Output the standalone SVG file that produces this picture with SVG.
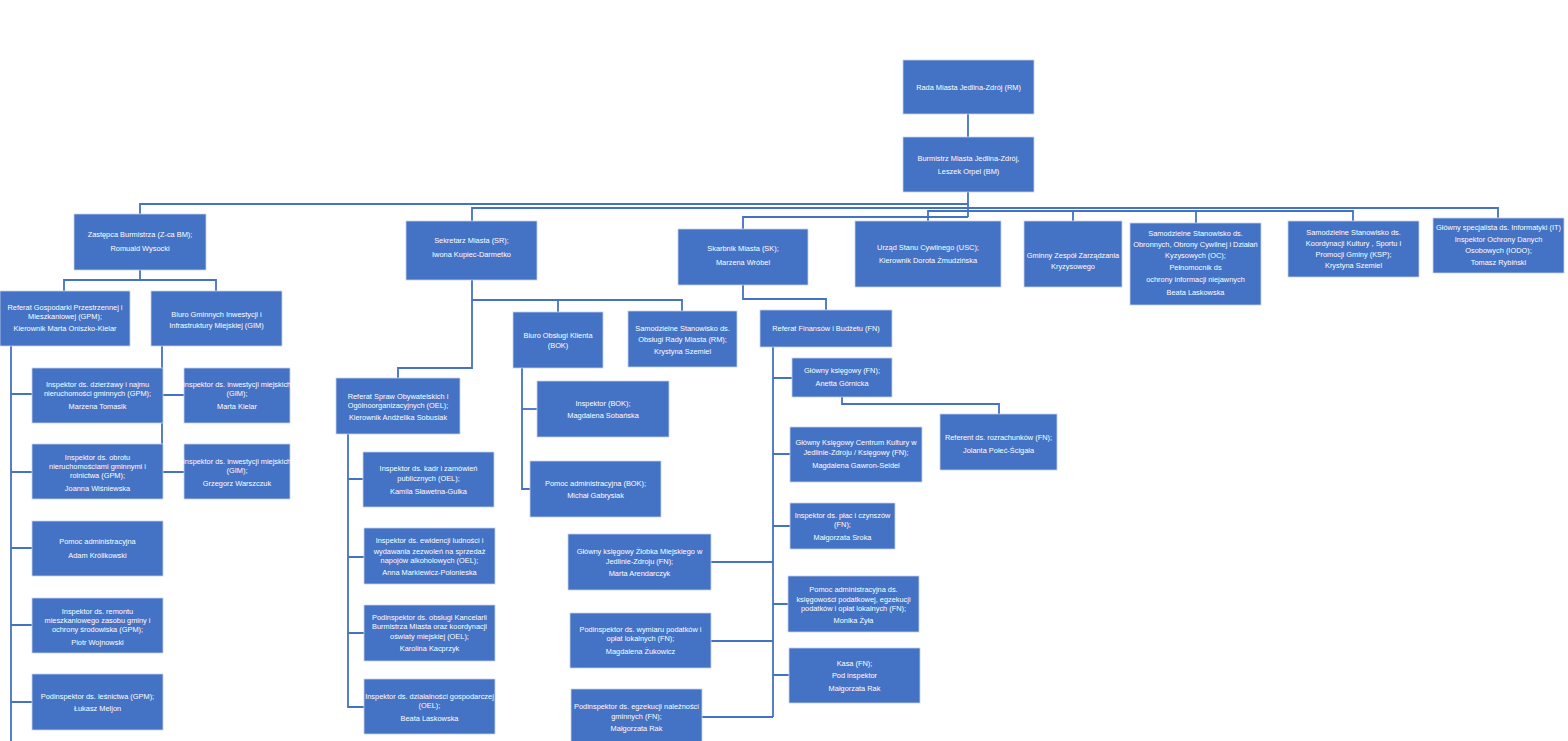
<svg xmlns="http://www.w3.org/2000/svg" width="1568" height="741" viewBox="0 0 1568 741">
<style>
.b{fill:#4472C4;stroke:#c5d3ee;stroke-width:0.8}
text{font-family:"Liberation Sans",Arial,sans-serif;font-size:7.4px;fill:#ffffff;text-anchor:middle}
.c{fill:none;stroke:#4472C4;stroke-width:1.8}
</style>
<rect width="1568" height="741" fill="#ffffff"/>
<g id="connectors" class="c">
<path d="M968 114V137"/>
<path d="M968 192V217"/>
<path d="M140 214V204H968"/>
<path d="M472 221V208H1498V218"/>
<path d="M928 221V211H1353V221"/>
<path d="M1073 211V221"/>
<path d="M1196 211V223"/>
<path d="M743 229V217H968"/>
<path d="M140 270V280"/>
<path d="M64 291V280H216V291"/>
<path d="M11 346V741"/>
<path d="M11 394H32M11 472H32M11 548H32M11 625H32M11 702H32"/>
<path d="M162 346V472"/>
<path d="M162 395H184M162 472H184"/>
<path d="M472 280V368H398V378"/>
<path d="M472 300H682V311"/>
<path d="M558 300V312"/>
<path d="M522 368V489H530"/>
<path d="M522 409H537"/>
<path d="M348 434V707H364"/>
<path d="M348 479H363M348 557H364M348 633H364"/>
<path d="M743 285V299H826V310"/>
<path d="M773 347V717"/>
<path d="M773 378H792M773 454H790M773 526H790M711 562H773M773 604H788M711 641H773M773 675H789M702 717H773"/>
<path d="M842 397V404H999V414"/>
</g>
<g id="rm"><rect class="b" x="903" y="60" width="131" height="54"/><text x="968.5" y="89.5">Rada Miasta Jedlina-Zdrój (RM)</text></g>
<g id="bm"><rect class="b" x="903" y="137" width="131" height="55"/><text x="968.5" y="160.5">Burmistrz Miasta Jedlina-Zdrój,</text><text x="968.5" y="173.5">Leszek Orpel (BM)</text></g>
<g id="zca"><rect class="b" x="74" y="214" width="132" height="56"/><text x="140" y="236.5">Zastępca Burmistrza (Z-ca BM);</text><text x="140" y="250.5">Romuald Wysocki</text></g>
<g id="sr"><rect class="b" x="406" y="221" width="131" height="59"/><text x="471.5" y="242.5">Sekretarz Miasta (SR);</text><text x="471.5" y="256.5">Iwona Kupiec-Darmetko</text></g>
<g id="sk"><rect class="b" x="678" y="229" width="130" height="56"/><text x="743" y="250.5">Skarbnik Miasta (SK);</text><text x="743" y="264.5">Marzena Wróbel</text></g>
<g id="usc"><rect class="b" x="855" y="221" width="146" height="66"/><text x="928" y="249.5">Urząd Stanu Cywilnego (USC);</text><text x="928" y="262.5">Kierownik Dorota Żmudzińska</text></g>
<g id="gzzk"><rect class="b" x="1024" y="221" width="98" height="66"/><text x="1073" y="257.5">Gminny Zespół  Zarządzania</text><text x="1073" y="268.5">Kryzysowego</text></g>
<g id="oc"><rect class="b" x="1130" y="223" width="131" height="82"/><text x="1195.5" y="235.5">Samodzielne Stanowisko ds.</text><text x="1195.5" y="246.5">Obronnych, Obrony Cywilnej i Działań</text><text x="1195.5" y="257.5">Kyzysowych (OC);</text><text x="1195.5" y="269.5">Pełnomocnik ds</text><text x="1195.5" y="281.5">ochrony informacji niejawnych</text><text x="1195.5" y="294.5">Beata Laskowska</text></g>
<g id="ksp"><rect class="b" x="1288" y="221" width="131" height="56"/><text x="1353.5" y="234.5">Samodzielne Stanowisko ds.</text><text x="1353.5" y="245.5">Koordynacji  Kultury , Sportu i</text><text x="1353.5" y="256.5">Promocji Gminy  (KSP);</text><text x="1353.5" y="267.5">Krystyna Szemiel</text></g>
<g id="it"><rect class="b" x="1433" y="218" width="131" height="55"/><text x="1498.5" y="229.5">Główny specjalista ds. Informatyki  (IT)</text><text x="1498.5" y="241.5">Inspektor Ochrony Danych</text><text x="1498.5" y="252.5">Osobowych (IODO);</text><text x="1498.5" y="264.5">Tomasz Rybiński</text></g>
<g id="gpm"><rect class="b" x="0" y="291" width="130" height="55"/><text x="65" y="309.5">Referat Gospodarki Przestrzennej i</text><text x="65" y="318.5">Mieszkaniowej (GPM);</text><text x="65" y="330.5">Kierownik Marta Oniszko-Kielar</text></g>
<g id="gim"><rect class="b" x="151" y="291" width="131" height="55"/><text x="216.5" y="316.5">Biuro Gminnych Inwestycji i</text><text x="216.5" y="327.5">Infrastruktury Miejskiej (GIM)</text></g>
<g id="gpm1"><rect class="b" x="32" y="368" width="131" height="55"/><text x="97.5" y="386.5">Inspektor ds. dzierżawy i najmu</text><text x="97.5" y="395.5">nieruchomości gminnych (GPM);</text><text x="97.5" y="408.5">Marzena Tomasik</text></g>
<g id="gim1"><rect class="b" x="184" y="368" width="106" height="55"/><text x="237" y="386.5">Inspektor ds. inwestycji miejskich</text><text x="237" y="395.5">(GIM);</text><text x="237" y="408.5">Marta Kielar</text></g>
<g id="gpm2"><rect class="b" x="32" y="444" width="131" height="55"/><text x="97.5" y="459.5">Inspektor ds. obrotu</text><text x="97.5" y="468.5">nieruchomościami gminnymi i</text><text x="97.5" y="477.5">rolnictwa (GPM);</text><text x="97.5" y="490.5">Joanna Wiśniewska</text></g>
<g id="gim2"><rect class="b" x="184" y="444" width="106" height="55"/><text x="237" y="463.5">Inspektor ds. inwestycji miejskich</text><text x="237" y="472.5">(GIM);</text><text x="237" y="485.5">Grzegorz Warszczuk</text></g>
<g id="gpm3"><rect class="b" x="32" y="521" width="131" height="55"/><text x="97.5" y="543.5">Pomoc administracyjna</text><text x="97.5" y="557.5">Adam Królikowski</text></g>
<g id="gpm4"><rect class="b" x="32" y="598" width="131" height="55"/><text x="97.5" y="613.5">Inspektor ds. remontu</text><text x="97.5" y="622.5">mieszkaniowego zasobu gminy i</text><text x="97.5" y="631.5">ochrony środowiska (GPM);</text><text x="97.5" y="644.5">Piotr Wojnowski</text></g>
<g id="gpm5"><rect class="b" x="32" y="674" width="131" height="56"/><text x="97.5" y="698.5">Podinspektor ds. leśnictwa (GPM);</text><text x="97.5" y="710.5">Łukasz Meljon</text></g>
<g id="oel"><rect class="b" x="336" y="378" width="124" height="56"/><text x="398" y="398.5">Referat Spraw Obywatelskich i</text><text x="398" y="407.5">Ogólnoorganizacyjnych (OEL);</text><text x="398" y="419.5">Kierownik Andżelika Sobusiak</text></g>
<g id="bok"><rect class="b" x="513" y="312" width="90" height="56"/><text x="558" y="337.5">Biuro Obsługi Klienta</text><text x="558" y="347.5">(BOK)</text></g>
<g id="ssrm"><rect class="b" x="628" y="311" width="109" height="56"/><text x="682.5" y="330.5">Samodzielne Stanowisko ds.</text><text x="682.5" y="341.5">Obsługi Rady Miasta (RM);</text><text x="682.5" y="353.5">Krystyna Szemiel</text></g>
<g id="bok1"><rect class="b" x="537" y="381" width="132" height="56"/><text x="603" y="405.5">Inspektor (BOK);</text><text x="603" y="417.5">Magdalena Sobańska</text></g>
<g id="bok2"><rect class="b" x="530" y="461" width="131" height="56"/><text x="595.5" y="485.5">Pomoc administracyjna (BOK);</text><text x="595.5" y="497.5">Michał Gabrysiak</text></g>
<g id="oel1"><rect class="b" x="363" y="452" width="131" height="55"/><text x="428.5" y="470.5">Inspektor ds. kadr i zamówień</text><text x="428.5" y="480.5">publicznych (OEL);</text><text x="428.5" y="493.5">Kamila Sławetna-Gulka</text></g>
<g id="oel2"><rect class="b" x="364" y="528" width="131" height="56"/><text x="429.5" y="542.5">Inspektor ds. ewidencji ludności i</text><text x="429.5" y="553.5">wydawania zezwoleń na sprzedaż</text><text x="429.5" y="562.5">napojów alkoholowych (OEL);</text><text x="429.5" y="574.5">Anna Markiewicz-Polonieska</text></g>
<g id="oel3"><rect class="b" x="364" y="605" width="131" height="56"/><text x="429.5" y="619.5">Podinspektor ds. obsługi Kancelarii</text><text x="429.5" y="628.5">Burmistrza Miasta oraz koordynacji</text><text x="429.5" y="638.5">oświaty miejskiej (OEL);</text><text x="429.5" y="650.5">Karolina Kacprzyk</text></g>
<g id="oel4"><rect class="b" x="364" y="679" width="131" height="55"/><text x="429.5" y="698.5">Inspektor ds. działalności gospodarczej</text><text x="429.5" y="707.5">(OEL);</text><text x="429.5" y="720.5">Beata Laskowska</text></g>
<g id="fn"><rect class="b" x="760" y="310" width="132" height="37"/><text x="826" y="330.5">Referat Finansów i Budżetu (FN)</text></g>
<g id="fn1"><rect class="b" x="792" y="358" width="100" height="39"/><text x="842" y="372.5">Główny księgowy (FN);</text><text x="842" y="385.5">Anetta Górnicka</text></g>
<g id="fn1a"><rect class="b" x="940" y="414" width="117" height="56"/><text x="998.5" y="439.5">Referent ds. rozrachunków (FN);</text><text x="998.5" y="452.5">Jolanta Połeć-Ścigała</text></g>
<g id="fn2"><rect class="b" x="790" y="427" width="132" height="55"/><text x="856" y="444.5">Główny Księgowy Centrum Kultury w</text><text x="856" y="454.5">Jedlinie-Zdroju / Księgowy (FN);</text><text x="856" y="467.5">Magdalena Gawron-Seidel</text></g>
<g id="fn3"><rect class="b" x="790" y="503" width="105" height="46"/><text x="842.5" y="517.5">Inspektor ds. płac i czynszów</text><text x="842.5" y="526.5">(FN);</text><text x="842.5" y="539.5">Małgorzata Sroka</text></g>
<g id="fn4"><rect class="b" x="568" y="534" width="143" height="56"/><text x="639.5" y="553.5">Główny księgowy Żłobka Miejskiego w</text><text x="639.5" y="563.5">Jedlinie-Zdroju (FN);</text><text x="639.5" y="575.5">Marta Arendarczyk</text></g>
<g id="fn5"><rect class="b" x="788" y="576" width="131" height="56"/><text x="853.5" y="591.5">Pomoc administracyjna ds.</text><text x="853.5" y="601.5">księgowości podatkowej, egzekucji</text><text x="853.5" y="610.5">podatków i opłat lokalnych (FN);</text><text x="853.5" y="622.5">Monika Żyła</text></g>
<g id="fn6"><rect class="b" x="570" y="613" width="141" height="55"/><text x="640.5" y="631.5">Podinspektor ds. wymiaru podatków i</text><text x="640.5" y="640.5">opłat lokalnych (FN);</text><text x="640.5" y="653.5">Magdalena Żukowicz</text></g>
<g id="fn7"><rect class="b" x="789" y="648" width="131" height="55"/><text x="854.5" y="665.5">Kasa (FN);</text><text x="854.5" y="677.5">Pod inspektor</text><text x="854.5" y="690.5">Małgorzata Rak</text></g>
<g id="fn8"><rect class="b" x="571" y="689" width="131" height="56"/><text x="636.5" y="708.5">Podinspektor ds. egzekucji należności</text><text x="636.5" y="718.5">gminnych (FN);</text><text x="636.5" y="730.5">Małgorzata Rak</text></g>
</svg>
